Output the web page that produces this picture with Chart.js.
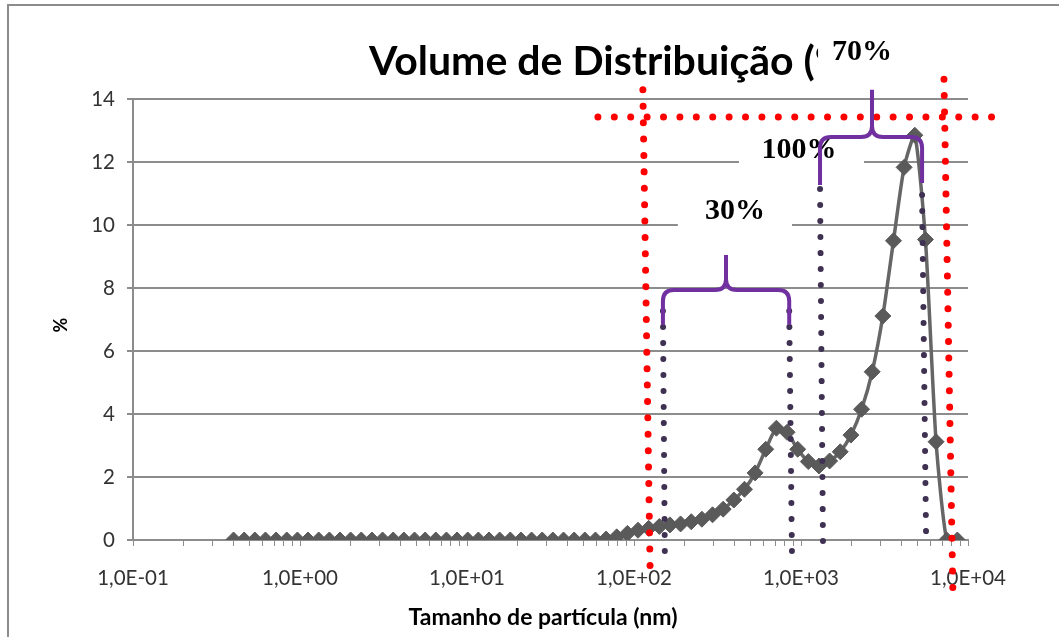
<!DOCTYPE html>
<html><head><meta charset="utf-8">
<script src="https://cdn.jsdelivr.net/npm/chart.js@4.4.1/dist/chart.umd.min.js"></script>
<style>html,body{margin:0;padding:0;background:#fff;overflow:hidden}#wrap{width:1059px;height:637px;position:relative}</style>
</head><body><div id="wrap"><canvas id="c" width="1059" height="637"></canvas></div>
<script>
// Particle size bins (nm)
const sizes = [0.4, 0.4632, 0.5365, 0.6213, 0.7195, 0.8332, 0.9649, 1.117, 1.294, 1.499,
  1.736, 2.01, 2.328, 2.696, 3.122, 3.615, 4.187, 4.849, 5.615, 6.503,
  7.531, 8.721, 10.1, 11.7, 13.54, 15.69, 18.17, 21.04, 24.36, 28.21,
  32.67, 37.84, 43.82, 50.75, 58.77, 68.06, 78.82, 91.28, 105.7, 122.4,
  141.8, 164.2, 190.1, 220.2, 255.0, 295.3, 342.0, 396.1, 458.7, 531.2,
  615.1, 712.4, 825.0, 955.4, 1106, 1281, 1484, 1718, 1990, 2305,
  2669, 3091, 3580, 4145, 4801, 5560, 6439, 7456, 8635];
// Volume (%)
const volume = [0, 0, 0, 0, 0, 0, 0, 0, 0, 0,
  0, 0, 0, 0, 0, 0, 0, 0, 0, 0,
  0, 0, 0, 0, 0, 0, 0, 0, 0, 0,
  0, 0, 0, 0, 0, 0.03, 0.1, 0.21, 0.31, 0.37,
  0.43, 0.48, 0.51, 0.58, 0.66, 0.8, 0.98, 1.27, 1.61, 2.13,
  2.88, 3.55, 3.42, 2.88, 2.49, 2.35, 2.51, 2.80, 3.33, 4.15,
  5.34, 7.11, 9.50, 11.83, 12.85, 9.54, 3.12, 0, 0];

const xMajorTicks = [0.1, 1, 10, 100, 1000, 10000];
const xTickLabels = ['1,0E-01', '1,0E+00', '1,0E+01', '1,0E+02', '1,0E+03', '1,0E+04'];
const xMinorMultipliers = [2, 3, 4, 5, 6, 7, 8, 9];
const yTickValues = [0, 2, 4, 6, 8, 10, 12, 14];

const chartTitle = 'Volume de Distribuição (%)';
const xAxisTitle = 'Tamanho de partícula (nm)';
const yAxisTitle = '%';

// Annotations, in data units (nm, %)
const redLines = [
  [[113, 14.29], [125, -1.11]],
  [[7180, 14.63], [8130, -1.84]],
  [[60.8, 13.43], [14520, 13.43]]
];
const darkLines = [
  [[149, 7.27], [153, -0.48]],
  [[850, 7.27], [883, -0.48]],
  [[1300, 11.14], [1355, -0.25]],
  [[5309, 10.95], [5610, 0.1]]
];
const braces = [
  {xl: 149, yl: 6.83, xr: 850, yr: 6.83, xm: 355.6, bar: 7.94, peak: 9.05},
  {xl: 1300, yl: 11.27, xr: 5309, yr: 11.33, xm: 2662, bar: 12.79, peak: 14.29}
];
const boxes = [
  [183, 11.27, 883, 9.52],
  [425, 13.08, 2383, 11.43],
  [1265, 16.25, 4198, 14.45]
];
const notes = [
  {text: '30%', x: 403, y: 10.19},
  {text: '100%', x: 973, y: 12.13},
  {text: '70%', x: 2318, y: 15.24}
];

const xTickValues = [];
xMajorTicks.forEach((d, i) => {
  xTickValues.push(d);
  if (i < xMajorTicks.length - 1) xMinorMultipliers.forEach(m => xTickValues.push(m * d));
});

const points = sizes.map((s, i) => ({x: s, y: volume[i]}));

const GRID = '#8c8c8c';

const overlay = {
  id: 'overlay',
  afterDraw(chart) {
    const ctx = chart.ctx;
    const xs = chart.scales.x, ys = chart.scales.y;
    const X = v => xs.getPixelForValue(v), Y = v => ys.getPixelForValue(v);
    ctx.save();
    // frame
    ctx.strokeStyle = GRID; ctx.lineWidth = 2;
    ctx.beginPath(); ctx.moveTo(8, 637); ctx.lineTo(8, 5); ctx.lineTo(1059, 5); ctx.stroke();
    // title
    ctx.fillStyle = '#000';
    ctx.font = 'bold 41px Lato';
    ctx.textAlign = 'left'; ctx.textBaseline = 'alphabetic';
    ctx.fillText(chartTitle, 369, 75);
    // axis titles
    ctx.font = 'bold 23px Lato';
    ctx.textAlign = 'center'; ctx.textBaseline = 'middle';
    ctx.fillText(xAxisTitle, 543, 618);
    ctx.save();
    ctx.translate(61, 325); ctx.rotate(-Math.PI / 2);
    ctx.font = 'bold 18px Lato';
    ctx.fillText(yAxisTitle, 0, 0);
    ctx.restore();
    // white text boxes
    ctx.fillStyle = '#fff';
    boxes.forEach(b => {
      const x1 = X(b[0]), y1 = Y(b[1]), x2 = X(b[2]), y2 = Y(b[3]);
      ctx.fillRect(x1, y1, x2 - x1, y2 - y1);
    });
    // texts
    ctx.fillStyle = '#000';
    ctx.font = 'bold 30px "Liberation Serif"';
    ctx.textAlign = 'center'; ctx.textBaseline = 'alphabetic';
    notes.forEach(n => ctx.fillText(n.text, X(n.x), Y(n.y)));
    // dotted lines
    function dotted(a, b, color, w, gap) {
      ctx.save();
      ctx.strokeStyle = color; ctx.lineWidth = w; ctx.lineCap = 'round';
      ctx.setLineDash([0.001, gap]);
      ctx.beginPath(); ctx.moveTo(X(a[0]), Y(a[1])); ctx.lineTo(X(b[0]), Y(b[1])); ctx.stroke();
      ctx.restore();
    }
    darkLines.forEach(l => dotted(l[0], l[1], '#3f3151', 6, 16));
    redLines.forEach(l => dotted(l[0], l[1], '#ff0000', 7, 16.4));
    // braces
    ctx.strokeStyle = '#7030a0'; ctx.lineWidth = 4; ctx.lineJoin = 'round'; ctx.lineCap = 'butt';
    braces.forEach(b => {
      const xl = X(b.xl), yl = Y(b.yl), xr = X(b.xr), yr = Y(b.yr), xm = X(b.xm), yb = Y(b.bar), yp = Y(b.peak);
      const r = 11;
      ctx.beginPath();
      ctx.moveTo(xl, yl); ctx.lineTo(xl, yb + r); ctx.quadraticCurveTo(xl, yb, xl + r, yb);
      ctx.lineTo(xm - r, yb); ctx.quadraticCurveTo(xm, yb, xm, yb - r); ctx.lineTo(xm, yp);
      ctx.moveTo(xm, yp); ctx.lineTo(xm, yb - r); ctx.quadraticCurveTo(xm, yb, xm + r, yb);
      ctx.lineTo(xr - r, yb); ctx.quadraticCurveTo(xr, yb, xr, yb + r); ctx.lineTo(xr, yr);
      ctx.stroke();
    });
    ctx.restore();
  }
};

new Chart(document.getElementById('c'), {
  type: 'line',
  data: {
    datasets: [{
      data: points,
      borderColor: '#666666',
      borderWidth: 3.5,
      tension: 0.2,
      pointStyle: 'rectRot',
      pointRadius: 8,
      pointBackgroundColor: '#5a5a5a',
      pointBorderColor: '#5a5a5a',
      pointBorderWidth: 1
    }]
  },
  options: {
    responsive: false,
    animation: false,
    devicePixelRatio: 1,
    layout: {padding: {top: 99, right: 91, bottom: 0, left: 0}},
    plugins: {legend: {display: false}, title: {display: false}, tooltip: {enabled: false}},
    scales: {
      x: {
        type: 'logarithmic',
        min: 0.1, max: 10000,
        afterBuildTicks: s => { s.ticks = xTickValues.map(v => ({value: v})); },
        afterFit: s => { s.height = 97; },
        ticks: {
          autoSkip: false, maxRotation: 0, minRotation: 0,
          padding: 20,
          color: '#333', font: {family: 'Lato', size: 20.5},
          callback: v => {
            const i = xMajorTicks.findIndex(m => Math.abs(m - v) / m < 1e-6);
            return i >= 0 ? xTickLabels[i] : '';
          }
        },
        grid: {drawOnChartArea: false, drawTicks: true, tickLength: 6, color: GRID, lineWidth: 1},
        border: {color: GRID, width: 2}
      },
      y: {
        min: 0, max: 14,
        afterBuildTicks: s => { s.ticks = yTickValues.map(v => ({value: v})); },
        afterFit: s => { s.width = 133; },
        ticks: {padding: 12, color: '#333', font: {family: 'Lato', size: 20.5}},
        grid: {color: GRID, lineWidth: 2, tickLength: 6, drawTicks: true},
        border: {color: GRID, width: 2}
      }
    }
  },
  plugins: [overlay]
});
</script>
</body></html>
